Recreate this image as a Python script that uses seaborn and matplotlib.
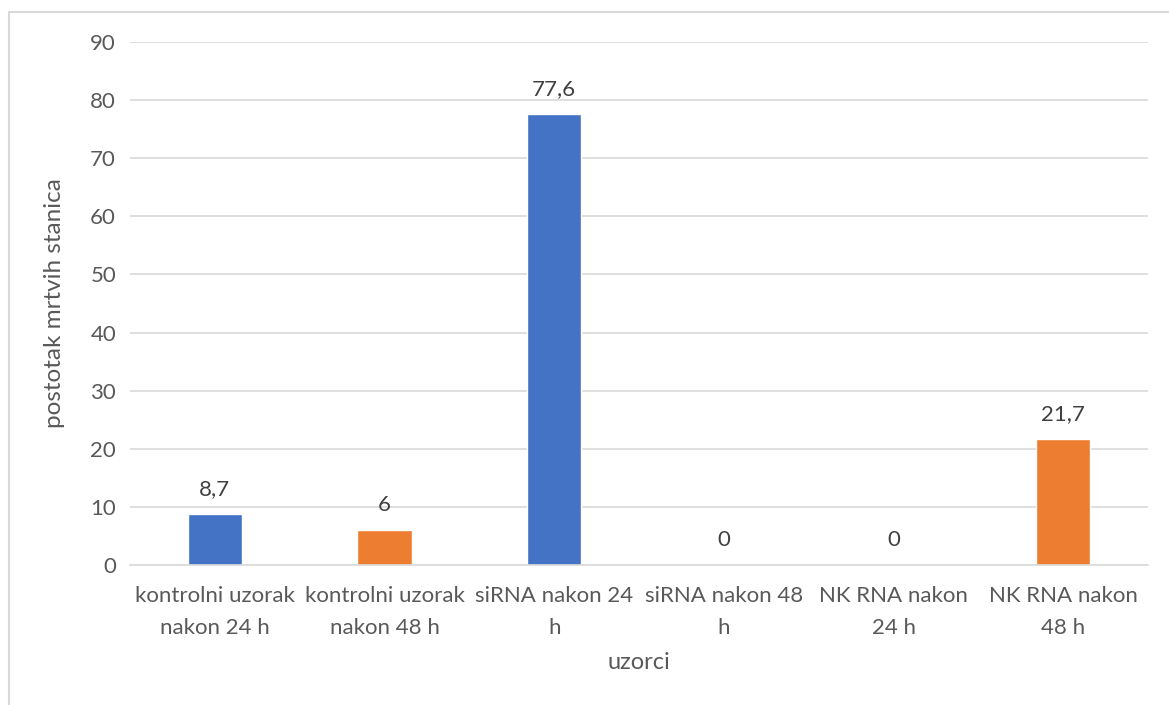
import matplotlib
matplotlib.use("Agg")
import matplotlib.pyplot as plt
import seaborn as sns
import pandas as pd
from matplotlib.lines import Line2D

categories = ["kontrolni uzorak\nnakon 24 h", "kontrolni uzorak\nnakon 48 h",
              "siRNA nakon 24\nh", "siRNA nakon 48\nh",
              "NK RNA nakon\n24 h", "NK RNA nakon\n48 h"]
values = [8.7, 6.0, 77.6, 0.0, 0.0, 21.7]
groups = ["24 h", "48 h", "24 h", "48 h", "24 h", "48 h"]
yticks = [0, 10, 20, 30, 40, 50, 60, 70, 80, 90]

sns.set_theme(style="white")
plt.rcParams['font.family'] = ['Lato', 'DejaVu Sans']

df = pd.DataFrame({"cat": categories, "val": values, "grp": groups})

fig = plt.figure(figsize=(11.69, 7.05), dpi=100)
ax = fig.add_axes([130/1169, 140/705, (1148-130)/1169, (565-42)/705])

sns.barplot(data=df, x="cat", y="val", hue="grp",
            palette={"24 h": "#4472C4", "48 h": "#ED7D31"},
            dodge=False, width=0.32, legend=False, ax=ax, saturation=1)

for cont in ax.containers:
    labs = []
    for bar in cont:
        h = bar.get_height()
        labs.append(("%g" % round(h, 1)).replace(".", ","))
    ax.bar_label(cont, labels=labs, padding=11, fontsize=16, color="#404040")

ax.set_ylim(0, 90)
ax.set_yticks(yticks)
ax.set_xlim(-0.5, 5.5)
ax.set_xticks(range(len(categories)), categories, linespacing=1.75)
ax.yaxis.grid(True, color="#D9D9D9", linewidth=1.2)
ax.set_axisbelow(True)
for s in ["top", "right", "left"]:
    ax.spines[s].set_visible(False)
ax.spines["bottom"].set_color("#D9D9D9")
ax.spines["bottom"].set_linewidth(1.2)
ax.tick_params(axis="both", length=0, labelsize=16, labelcolor="#595959")
ax.tick_params(axis="y", pad=10)
ax.tick_params(axis="x", pad=15)
ax.set_xlabel("uzorci", fontsize=17, color="#595959", labelpad=10)
ax.set_ylabel("postotak mrtvih stanica", fontsize=17.5, color="#595959", labelpad=18)

fig.add_artist(Line2D([9/1169, 9/1169], [0, 1 - 12/705], color="#D9D9D9", linewidth=1.5))
fig.add_artist(Line2D([9/1169, 1], [1 - 12/705, 1 - 12/705], color="#D9D9D9", linewidth=1.5))

fig.savefig("out.png", dpi=100)
